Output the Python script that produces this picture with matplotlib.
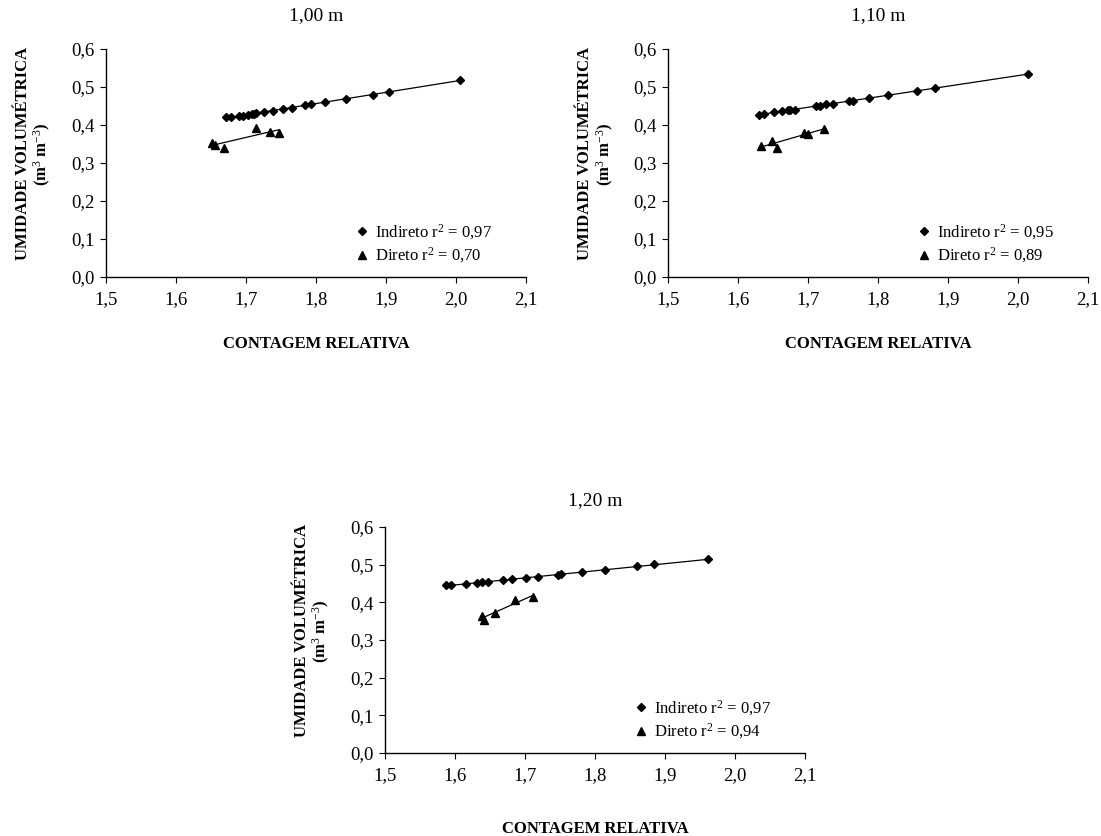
import numpy as np
import matplotlib
matplotlib.use("Agg")
import matplotlib.pyplot as plt

plt.rcParams.update({
    'font.family': ['Liberation Serif', 'DejaVu Serif'],
    'mathtext.fontset': 'custom',
    'mathtext.rm': 'Liberation Serif',
    'mathtext.it': 'Liberation Serif:italic',
    'mathtext.bf': 'Liberation Serif:bold',
    'xtick.direction': 'out', 'ytick.direction': 'out',
    'xtick.major.size': 4, 'ytick.major.size': 4,
    'axes.linewidth': 1.0,
})

# ---- data ----
titles = ["1,00 m", "1,10 m", "1,20 m"]

ind_x_100 = [1.671, 1.678, 1.690, 1.696, 1.703, 1.708, 1.711, 1.714, 1.726, 1.739,
             1.753, 1.766, 1.784, 1.793, 1.813, 1.843, 1.882, 1.904, 2.006]
ind_y_100 = [0.420, 0.421, 0.425, 0.425, 0.427, 0.429, 0.430, 0.431, 0.434, 0.438,
             0.442, 0.446, 0.452, 0.454, 0.461, 0.469, 0.480, 0.487, 0.518]
dir_x_100 = [1.651, 1.656, 1.668, 1.714, 1.734, 1.747]
dir_y_100 = [0.353, 0.347, 0.339, 0.392, 0.382, 0.378]

ind_x_110 = [1.630, 1.637, 1.652, 1.663, 1.671, 1.675, 1.681, 1.712, 1.717, 1.726,
             1.736, 1.759, 1.764, 1.787, 1.814, 1.856, 1.881, 2.015]
ind_y_110 = [0.427, 0.429, 0.434, 0.436, 0.439, 0.440, 0.440, 0.450, 0.451, 0.454,
             0.456, 0.463, 0.464, 0.471, 0.479, 0.490, 0.497, 0.534]
dir_x_110 = [1.633, 1.649, 1.656, 1.695, 1.700, 1.723]
dir_y_110 = [0.345, 0.359, 0.340, 0.379, 0.377, 0.390]

ind_x_120 = [1.587, 1.594, 1.616, 1.631, 1.639, 1.647, 1.669, 1.682, 1.701, 1.719,
             1.747, 1.752, 1.781, 1.814, 1.860, 1.884, 1.962]
ind_y_120 = [0.445, 0.445, 0.450, 0.452, 0.453, 0.455, 0.459, 0.461, 0.465, 0.468,
             0.473, 0.474, 0.480, 0.486, 0.496, 0.501, 0.514]
dir_x_120 = [1.639, 1.641, 1.657, 1.686, 1.711]
dir_y_120 = [0.363, 0.354, 0.372, 0.405, 0.414]

r2_ind = ["0,97", "0,95", "0,97"]
r2_dir = ["0,70", "0,89", "0,94"]

xticks = [1.5, 1.6, 1.7, 1.8, 1.9, 2.0, 2.1]
xticklabels = ["1,5", "1,6", "1,7", "1,8", "1,9", "2,0", "2,1"]
yticks = [0.0, 0.1, 0.2, 0.3, 0.4, 0.5, 0.6]
yticklabels = ["0,0", "0,1", "0,2", "0,3", "0,4", "0,5", "0,6"]

panels = [
    (ind_x_100, ind_y_100, dir_x_100, dir_y_100),
    (ind_x_110, ind_y_110, dir_x_110, dir_y_110),
    (ind_x_120, ind_y_120, dir_x_120, dir_y_120),
]

W, H = 1101, 836
fig = plt.figure(figsize=(W / 100, H / 100), dpi=100)

# axes boxes in pixels: left, top, right, bottom
boxes = [(106, 49, 526, 277), (668, 49, 1088, 277), (385, 527, 805, 753)]
title_pads = [21, 16]


def fit_line(ax, x, y):
    x = np.asarray(x)
    k, b = np.polyfit(x, y, 1)
    xs = np.array([x.min(), x.max()])
    ax.plot(xs, k * xs + b, color='black', lw=0.9, zorder=2)


for i, (box, (ix, iy, dx, dy)) in enumerate(zip(boxes, panels)):
    l, t, r, b = box
    ax = fig.add_axes([l / W, 1 - b / H, (r - l) / W, (b - t) / H])

    fit_line(ax, ix, iy)
    fit_line(ax, dx, dy)
    ax.plot(ix, iy, 'D', color='black', ms=4.2, ls='none', zorder=3,
            label=f"Indireto r$^2$ = {r2_ind[i]}")
    ax.plot(dx, dy, '^', color='black', ms=5.5, ls='none', zorder=3,
            label=f"Direto r$^2$ = {r2_dir[i]}")

    ax.set_xlim(1.5, 2.1)
    ax.set_ylim(0.0, 0.6)
    ax.set_xticks(xticks)
    ax.set_xticklabels(xticklabels, fontsize=13.5)
    ax.set_yticks(yticks)
    ax.set_yticklabels(yticklabels, fontsize=13.5)
    ax.tick_params(axis='x', pad=6)
    ax.tick_params(axis='y', pad=4)
    ax.spines['top'].set_visible(False)
    ax.spines['right'].set_visible(False)

    ax.set_title(titles[i], fontsize=14, pad=title_pads[0] if i < 2 else title_pads[1])

    ax.set_xlabel("CONTAGEM RELATIVA", fontsize=12, fontweight='bold')
    ax.xaxis.set_label_coords(0.5, -0.26 if i < 2 else -0.30)
    ax.set_ylabel("UMIDADE VOLUMÉTRICA\n(m$^3$ m$^{-3}$)", fontsize=12,
                  fontweight='bold', linespacing=1.1)
    ax.yaxis.set_label_coords(-0.125, 0.54)

    ax.legend(loc='lower left', bbox_to_anchor=(0.57, 0.0), frameon=False,
              fontsize=12, handlelength=0.6, handletextpad=0.5,
              labelspacing=0.25, borderaxespad=0.3)

fig.savefig("out.png", dpi=100)
